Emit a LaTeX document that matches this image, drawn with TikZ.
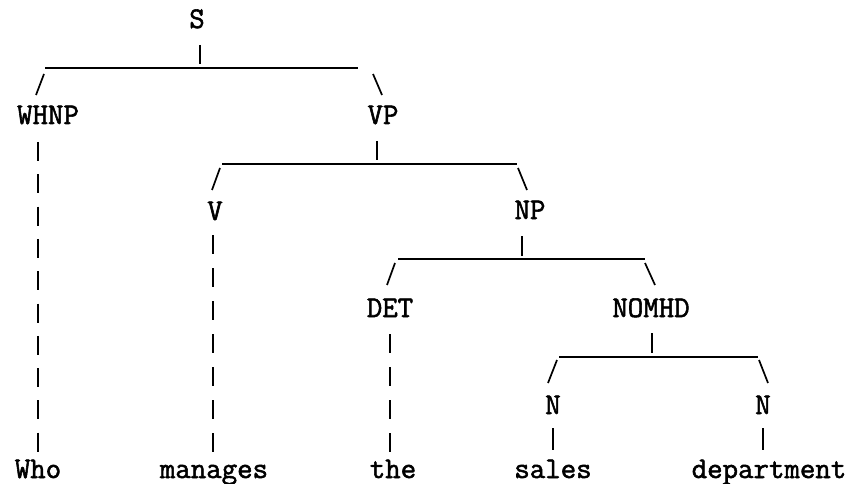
\documentclass[tikz,border=0pt]{standalone}
\usepackage{fontspec}
\setmonofont{Latin Modern Mono}[FakeBold=1.8]
\begin{document}
\begin{tikzpicture}[x=1pt,y=-1pt,
  lab/.style={font=\ttfamily\fontsize{30}{30}\selectfont, anchor=base, inner sep=0pt},
  br/.style={line width=1.7pt},
  col/.style={line width=1.7pt, dash pattern=on 19pt off 13.3pt}]
\useasboundingbox[fill=white] (0,0) rectangle (854,484);
% labels
\node[lab] (S) at (197,28) {S};
\node[lab] (WHNP) at (48,124) {WHNP};
\node[lab] (VP) at (383,124) {VP};
\node[lab] (V) at (215,220) {V};
\node[lab] (NP) at (530,219) {NP};
\node[lab] (DET) at (390,317) {DET};
\node[lab] (NOMHD) at (651,317) {NOMHD};
\node[lab] (N1) at (553,414) {N};
\node[lab] (N2) at (763,414) {N};
\node[lab] (Who) at (38,478) {Who};
\node[lab] (manages) at (214,478) {manages};
\node[lab] (the) at (393,478) {the};
\node[lab] (sales) at (553,478) {sales};
\node[lab] (department) at (769,478) {department};
% S bracket
\coordinate (s1) at (200,45); \coordinate (s2) at (200,64);
\coordinate (sL) at (45,68); \coordinate (sR) at (358,68);
\coordinate (sLa) at (44,74); \coordinate (sLb) at (36,95);
\coordinate (sRa) at (373,74); \coordinate (sRb) at (382,95);
\draw[br] (s1) -- (s2);
\draw[br] (sL) -- (sR);
\draw[br] (sLa) -- (sLb);
\draw[br] (sRa) -- (sRb);
% VP bracket
\coordinate (v1) at (377,141); \coordinate (v2) at (377,160);
\coordinate (vL) at (222,164); \coordinate (vR) at (517,164);
\coordinate (vLa) at (220,168); \coordinate (vLb) at (212,190);
\coordinate (vRa) at (518,168); \coordinate (vRb) at (527,190);
\draw[br] (v1) -- (v2);
\draw[br] (vL) -- (vR);
\draw[br] (vLa) -- (vLb);
\draw[br] (vRa) -- (vRb);
% NP bracket
\coordinate (n1) at (522,236); \coordinate (n2) at (522,256);
\coordinate (nL) at (398,259); \coordinate (nR) at (645,259);
\coordinate (nLa) at (395,263); \coordinate (nLb) at (387,285);
\coordinate (nRa) at (645,263); \coordinate (nRb) at (655,285);
\draw[br] (n1) -- (n2);
\draw[br] (nL) -- (nR);
\draw[br] (nLa) -- (nLb);
\draw[br] (nRa) -- (nRb);
% NOMHD bracket
\coordinate (m1) at (652,333); \coordinate (m2) at (652,353);
\coordinate (mL) at (559,357); \coordinate (mR) at (758,357);
\coordinate (mLa) at (557,360); \coordinate (mLb) at (548,383);
\coordinate (mRa) at (759,360); \coordinate (mRb) at (768,383);
\draw[br] (m1) -- (m2);
\draw[br] (mL) -- (mR);
\draw[br] (mLa) -- (mLb);
\draw[br] (mRa) -- (mRb);
% lexical columns
\coordinate (c1a) at (38,142); \coordinate (c1b) at (38,452);
\coordinate (c2a) at (213,235); \coordinate (c2b) at (213,452);
\coordinate (c3a) at (390,334); \coordinate (c3b) at (390,452);
\coordinate (c4a) at (553,428); \coordinate (c4b) at (553,450);
\coordinate (c5a) at (763,428); \coordinate (c5b) at (763,450);
\draw[col] (c1a) -- (c1b);
\draw[col, dash pattern=on 19pt off 14pt] (c2a) -- (c2b);
\draw[col, dash pattern=on 19pt off 14pt] (c3a) -- (c3b);
\draw[br] (c4a) -- (c4b);
\draw[br] (c5a) -- (c5b);
\end{tikzpicture}
\end{document}
